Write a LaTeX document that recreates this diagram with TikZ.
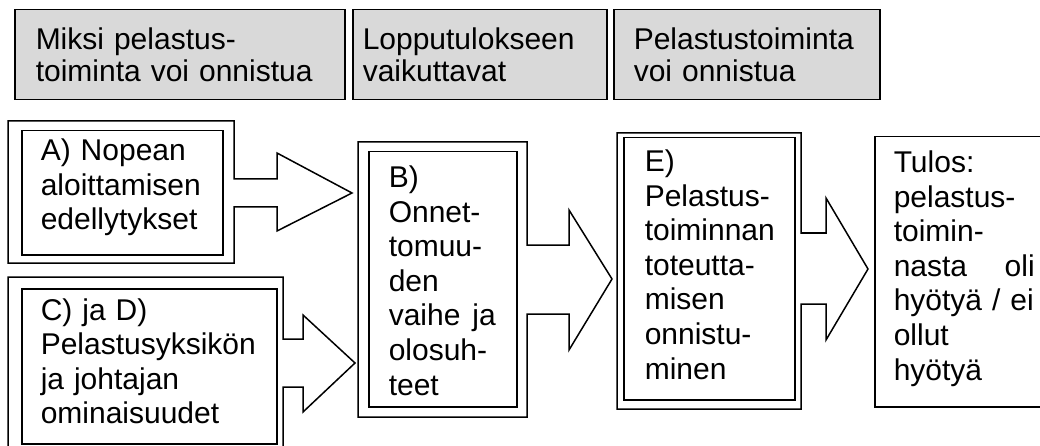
\documentclass[tikz,border=0pt]{standalone}
\usepackage{fontspec}
\setmainfont{Liberation Sans}
\usetikzlibrary{positioning}
\definecolor{hdrgray}{HTML}{D9D9D9}

\begin{document}
\begin{tikzpicture}[x=1pt, y=-1pt, line width=1.5pt,
  hdr/.style={draw, fill=hdrgray, anchor=north west, inner sep=0pt},
  frm/.style={draw, anchor=north west, inner sep=0pt},
  txt/.style={anchor=base west, inner sep=0pt, align=left, font=\fontsize{30}{34.5}\selectfont},
  htxt/.style={txt, font=\fontsize{30}{32}\selectfont}]
  \useasboundingbox (0,0) rectangle (1040,446);
  \clip (0,0) rectangle (1040,446);

  % column headers
  \node[hdr, minimum width=330, minimum height=90] (h1) at (14,9) {};
  \node[htxt, text width=300] (t1) at ([shift={(21,41)}]h1.north west) {Miksi pelastus-\\toiminta voi onnistua};
  \node[hdr, minimum width=254, minimum height=90] (h2) at (352,9) {};
  \node[htxt, text width=240] (t2) at ([shift={(10,41)}]h2.north west) {Lopputulokseen\\vaikuttavat};
  \node[hdr, minimum width=266, minimum height=90] (h3) at (613,9) {};
  \node[htxt, text width=240] (t3) at ([shift={(20,41)}]h3.north west) {Pelastustoiminta\\voi onnistua};

  % A
  \draw (8,121) -- (234,121) -- (234,179) -- (277,179) -- (277,153) -- (352,193) -- (277,231)
        -- (277,207) -- (234,207) -- (234,263) -- (8,263) -- cycle;
  \node[frm, minimum width=201, minimum height=124] (boxA) at (21,130) {};
  \node[txt, text width=190] (tA) at ([shift={(19,31)}]boxA.north west) {A) Nopean\\aloittamisen\\edellytykset};

  % C ja D
  \draw (8,277) -- (283,277) -- (283,339) -- (303,339) -- (303,315) -- (355,363) -- (303,412)
        -- (303,387) -- (283,387) -- (283,460) -- (8,460) -- cycle;
  \node[frm, minimum width=255, minimum height=155] (boxC) at (21,288) {};
  \node[txt, text width=240] (tC) at ([shift={(19,32)}]boxC.north west) {C) ja D)\\Pelastusyksikön\\ja johtajan\\ominaisuudet};

  % B
  \draw (358,142) -- (527,142) -- (527,245) -- (569,245) -- (569,210) -- (612,279) -- (569,350)
        -- (569,314) -- (527,314) -- (527,417) -- (358,417) -- cycle;
  \node[frm, minimum width=148, minimum height=255] (boxB) at (368,151) {};
  \node[txt, text width=107] (tB) at ([shift={(20,37)}]boxB.north west) {B)\\Onnet-\\tomuu-\\den\\vaihe\hfill ja\\olosuh-\\teet};

  % E
  \draw (617,133) -- (801,133) -- (801,233) -- (826,233) -- (826,198) -- (868,269) -- (826,340)
        -- (826,304) -- (801,304) -- (801,409) -- (617,409) -- cycle;
  \node[frm, minimum width=171, minimum height=262] (boxE) at (623,137) {};
  \node[txt, text width=150] (tE) at ([shift={(21,35)}]boxE.north west) {E)\\Pelastus-\\toiminnan\\toteutta-\\misen\\onnistu-\\minen};

  % tulos
  \node[frm, minimum width=180, minimum height=270] (boxT) at (874,136) {};
  \node[txt, text width=141] (tT) at ([shift={(19,37)}]boxT.north west) {Tulos:\\pelastus-\\toimin-\\nasta\hfill oli\\hyötyä / ei\\ollut\\hyötyä};
\end{tikzpicture}
\end{document}
